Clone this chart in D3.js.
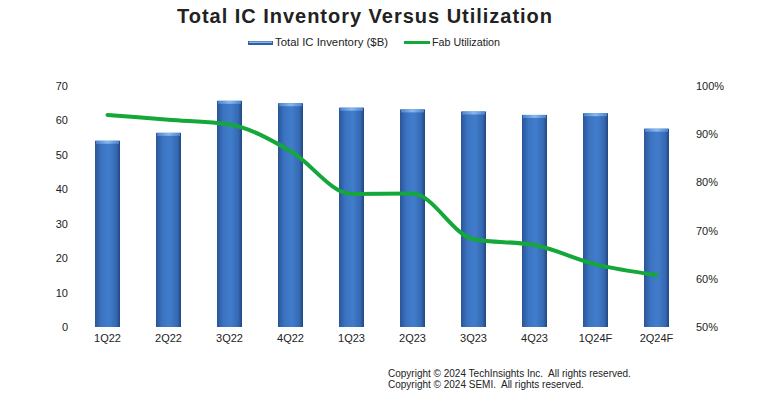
<!DOCTYPE html>
<html>
<head>
<meta charset="utf-8">
<script src="https://cdn.jsdelivr.net/npm/d3@7"></script>
<style>
  body { margin: 0; background: #fff; }
  text { font-family: "Liberation Sans", Arial, sans-serif; fill: #222; }
</style>
</head>
<body>
<div id="chart"></div>
<script>
// data
var quarters = ["1Q22", "2Q22", "3Q22", "4Q22", "1Q23", "2Q23", "3Q23", "4Q23", "1Q24F", "2Q24F"];
var inventory = [54.1, 56.4, 65.7, 65.0, 63.7, 63.2, 62.6, 61.6, 62.1, 57.6];
var utilization = [94.0, 93.0, 92.0, 86.5, 77.6, 77.7, 68.2, 67.0, 63.0, 60.8];
var leftTicks = [0, 10, 20, 30, 40, 50, 60, 70];
var rightTicks = [50, 60, 70, 80, 90, 100];

var width = 782, height = 395;
var svg = d3.select("#chart").append("svg")
    .attr("width", width)
    .attr("height", height);

var defs = svg.append("defs");
var grad = defs.append("linearGradient").attr("id", "barGrad")
    .attr("x1", "0%").attr("x2", "100%").attr("y1", "0%").attr("y2", "0%");
grad.append("stop").attr("offset", "0%").attr("stop-color", "#2a5597");
grad.append("stop").attr("offset", "25%").attr("stop-color", "#3b73c0");
grad.append("stop").attr("offset", "55%").attr("stop-color", "#417dcc");
grad.append("stop").attr("offset", "85%").attr("stop-color", "#3569b3");
grad.append("stop").attr("offset", "100%").attr("stop-color", "#22477f");

var topGrad = defs.append("linearGradient").attr("id", "topGrad")
    .attr("x1", "0%").attr("x2", "100%");
topGrad.append("stop").attr("offset", "0%").attr("stop-color", "#4c86cf");
topGrad.append("stop").attr("offset", "50%").attr("stop-color", "#8ab8ec");
topGrad.append("stop").attr("offset", "100%").attr("stop-color", "#4c86cf");

var x = d3.scaleBand().domain(quarters).range([77, 687]).paddingInner(0.59).paddingOuter(0.295);
var yL = d3.scaleLinear().domain([0, 70]).range([327, 86]);
var yR = d3.scaleLinear().domain([50, 100]).range([327, 86]);

// left axis
var axL = svg.append("g").attr("transform", "translate(68,0)")
    .call(d3.axisLeft(yL).tickValues(leftTicks).tickSize(0).tickPadding(0));
axL.select(".domain").remove();
axL.selectAll("text").style("font-size", "11px").attr("fill", "#222");

// right axis
var axR = svg.append("g").attr("transform", "translate(696,0)")
    .call(d3.axisRight(yR).tickValues(rightTicks).tickSize(0).tickPadding(0)
        .tickFormat(function(d){ return d + "%"; }));
axR.select(".domain").remove();
axR.selectAll("text").style("font-size", "11px").attr("fill", "#222");

// bottom axis
var axB = svg.append("g").attr("transform", "translate(0,334)")
    .call(d3.axisBottom(x).tickSize(0).tickPadding(0));
axB.select(".domain").remove();
axB.selectAll("text").style("font-size", "11px").attr("fill", "#222");

// bars
var bars = svg.selectAll(".bar").data(quarters).enter().append("g").attr("class", "bar");
bars.append("rect")
    .attr("x", function(d){ return x(d); })
    .attr("y", function(d, i){ return yL(inventory[i]); })
    .attr("width", x.bandwidth())
    .attr("height", function(d, i){ return yL(0) - yL(inventory[i]); })
    .attr("fill", "url(#barGrad)");
bars.append("rect")
    .attr("x", function(d){ return x(d) + 1; })
    .attr("y", function(d, i){ return yL(inventory[i]); })
    .attr("width", x.bandwidth() - 2)
    .attr("height", 3)
    .attr("fill", "url(#topGrad)");

// utilization line
var line = d3.line()
    .x(function(d, i){ return x(quarters[i]) + x.bandwidth() / 2; })
    .y(function(d){ return yR(d); })
    .curve(d3.curveMonotoneX);
svg.append("path")
    .datum(utilization)
    .attr("d", line)
    .attr("fill", "none")
    .attr("stroke", "#14a83b")
    .attr("stroke-width", 4)
    .attr("stroke-linecap", "round");

// title
svg.append("text").text("Total IC Inventory Versus Utilization")
    .attr("x", 177).attr("y", 23)
    .style("font-size", "20px").style("font-weight", "bold").attr("fill", "#111")
    .attr("textLength", 375).attr("lengthAdjust", "spacing");

// legend
var leg = svg.append("g");
leg.append("rect").attr("x", 248).attr("y", 41).attr("width", 25).attr("height", 4)
    .attr("fill", "#2f5fa8");
leg.append("rect").attr("x", 249).attr("y", 41.5).attr("width", 23).attr("height", 1.5)
    .attr("fill", "#8ab8ec");
leg.append("text").text("Total IC Inventory ($B)").attr("x", 275).attr("y", 46)
    .style("font-size", "10.5px").attr("textLength", 113).attr("lengthAdjust", "spacingAndGlyphs");
leg.append("line").attr("x1", 404).attr("x2", 430).attr("y1", 42.5).attr("y2", 42.5)
    .attr("stroke", "#14a83b").attr("stroke-width", 3);
leg.append("text").text("Fab Utilization").attr("x", 432).attr("y", 46)
    .style("font-size", "10.5px").attr("textLength", 68).attr("lengthAdjust", "spacingAndGlyphs");

// copyright
svg.append("text").text("Copyright \u00a9 2024 TechInsights Inc.  All rights reserved.")
    .attr("x", 388).attr("y", 377).style("font-size", "10px").style("white-space", "pre");
svg.append("text").text("Copyright \u00a9 2024 SEMI.  All rights reserved.")
    .attr("x", 388).attr("y", 388).style("font-size", "10px").style("white-space", "pre");
</script>
</body>
</html>
